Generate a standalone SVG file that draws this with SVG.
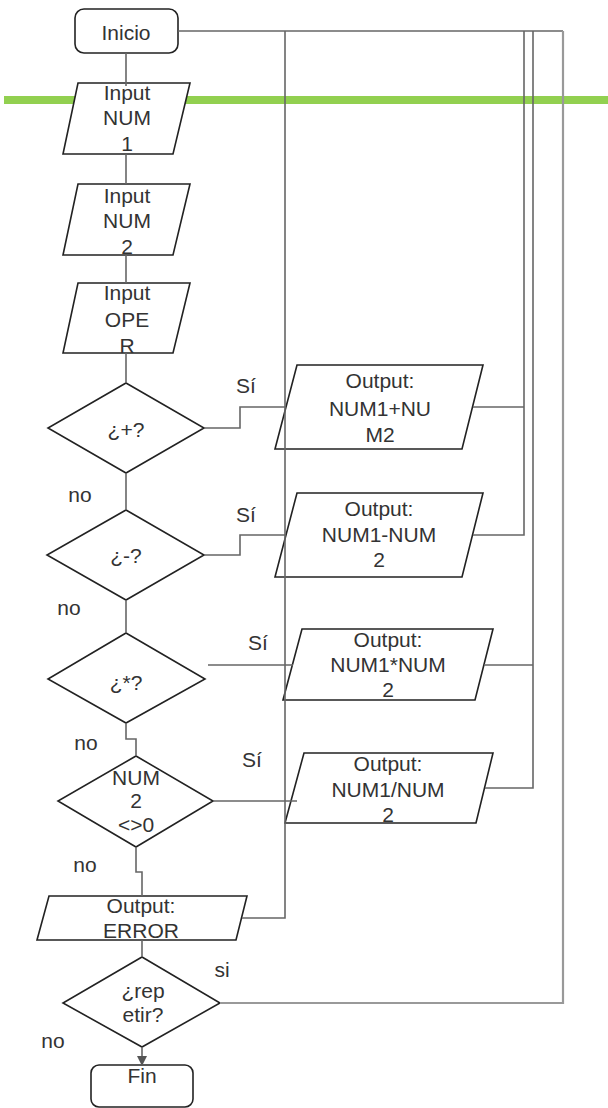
<svg xmlns="http://www.w3.org/2000/svg" width="608" height="1108" viewBox="0 0 608 1108">
<style>
.n{fill:#fff;stroke:#222;stroke-width:1.6}
.t{font-family:"Liberation Sans",Arial,sans-serif;font-size:21px;fill:#333;text-anchor:middle}
.c{fill:none;stroke:#666;stroke-width:1.6}
.c2{fill:none;stroke:#999;stroke-width:2.2}
</style>
<defs>
<marker id="arr" viewBox="0 0 10 10" refX="9" refY="5" markerWidth="10" markerHeight="10" markerUnits="userSpaceOnUse" orient="auto">
<path d="M0,0 L10,5 L0,10 Z" fill="#555"/>
</marker>
</defs>
<rect width="608" height="1108" fill="#fff"/>
<g id="divider"><rect x="4" y="96" width="604" height="8" fill="#92d050"/></g>
<g id="inicio"><rect class="n" x="75" y="9" width="103" height="44" rx="9"/><text class="t" x="126" y="40">Inicio</text></g>
<g id="input1"><path class="n" d="M78,83 H190 L173,154 H63 Z"/><text class="t" x="127" y="100">Input</text><text class="t" x="127" y="125">NUM</text><text class="t" x="127" y="151">1</text></g>
<g id="input2"><path class="n" d="M78,184 H190 L173,255 H63 Z"/><text class="t" x="127" y="203">Input</text><text class="t" x="127" y="228">NUM</text><text class="t" x="127" y="254">2</text></g>
<g id="input3"><path class="n" d="M78,283 H190 L173,353 H63 Z"/><text class="t" x="127" y="300">Input</text><text class="t" x="127" y="327">OPE</text><text class="t" x="127" y="353">R</text></g>
<g id="dec-suma"><path class="n" d="M126,383 L204,428 L126,473 L48,428 Z"/><text class="t" x="126" y="437">¿+?</text></g>
<g id="dec-resta"><path class="n" d="M126,510 L204,555 L126,600 L47,555 Z"/><text class="t" x="126" y="563">¿-?</text></g>
<g id="dec-mult"><path class="n" d="M126,633 L205,679 L126,723 L48,679 Z"/><text class="t" x="126" y="690">¿*?</text></g>
<g id="dec-div"><path class="n" d="M136,756 L213,801 L136,847 L58,801 Z"/><text class="t" x="136" y="785">NUM</text><text class="t" x="136" y="808">2</text><text class="t" x="136" y="832">&lt;&gt;0</text></g>
<g id="out-suma"><path class="n" d="M297,365 H483 L462,449 H275 Z"/><text class="t" x="380" y="388">Output:</text><text class="t" x="380" y="416">NUM1+NU</text><text class="t" x="380" y="442">M2</text></g>
<g id="out-resta"><path class="n" d="M297,493 H483 L462,577 H275 Z"/><text class="t" x="379" y="516">Output:</text><text class="t" x="379" y="542">NUM1-NUM</text><text class="t" x="379" y="567">2</text></g>
<g id="out-mult"><path class="n" d="M302,629 H493 L475,700 H283 Z"/><text class="t" x="388" y="647">Output:</text><text class="t" x="388" y="672">NUM1*NUM</text><text class="t" x="388" y="697">2</text></g>
<g id="out-div"><path class="n" d="M304,753 H493 L476,823 H285 Z"/><text class="t" x="388" y="771">Output:</text><text class="t" x="388" y="797">NUM1/NUM</text><text class="t" x="388" y="822">2</text></g>
<g id="out-error"><path class="n" d="M49,896 H247 L236,940 H37 Z"/><text class="t" x="141" y="913">Output:</text><text class="t" x="141" y="938">ERROR</text></g>
<g id="dec-repetir"><path class="n" d="M142,957 L220,1003 L142,1047 L63,1003 Z"/><text class="t" x="143" y="998">¿rep</text><text class="t" x="143" y="1022">etir?</text></g>
<g id="fin"><rect class="n" x="91" y="1065" width="102" height="42" rx="8"/><text class="t" x="142" y="1083">Fin</text></g>
<g id="connectors">
<path class="c" d="M126,53 V86"/>
<path class="c" d="M126,154 V184"/>
<path class="c" d="M126,255 V283"/>
<path class="c" d="M126,353 V383"/>
<path class="c" d="M126,473 V510"/>
<path class="c" d="M126,600 V633"/>
<path class="c" d="M126,723 V739 H136 V756"/>
<path class="c" d="M136,847 V872 H142 V896"/>
<path class="c" d="M142,940 V957"/>
<path class="c" d="M142,1047 V1065" marker-end="url(#arr)"/>
<path class="c" d="M204,428 H240 V407 H286"/>
<path class="c" d="M204,555 H240 V535 H286"/>
<path class="c" d="M208,665 H293"/>
<path class="c" d="M213,801 H297"/>
<path class="c" d="M473,407 H524"/>
<path class="c" d="M473,535 H524 V31"/>
<path class="c" d="M484,665 H533"/>
<path class="c" d="M485,788 H533 V31"/>
<path class="c" d="M242,918 H285 V31"/>
<path class="c" d="M178,31 H563"/>
<path class="c2" d="M220,1003 H563 V31"/>
</g>
<g id="labels">
<text class="t" x="246" y="393">Sí</text>
<text class="t" x="246" y="522">Sí</text>
<text class="t" x="258" y="650">Sí</text>
<text class="t" x="252" y="767">Sí</text>
<text class="t" x="80" y="502">no</text>
<text class="t" x="69" y="615">no</text>
<text class="t" x="86" y="750">no</text>
<text class="t" x="85" y="872">no</text>
<text class="t" x="53" y="1048">no</text>
<text class="t" x="222" y="977">si</text>
</g>
</svg>
